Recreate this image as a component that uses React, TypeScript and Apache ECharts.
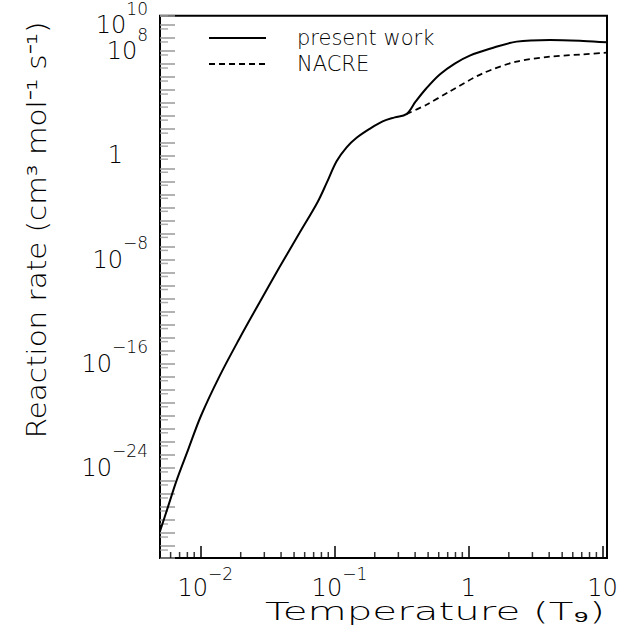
import React, { useEffect, useRef } from 'react';
import * as echarts from 'echarts';

// ---- data ----
const presentT = [0.005, 0.005758, 0.006642, 0.008124, 0.01011, 0.01385, 0.01954, 0.02757, 0.0389, 0.05485, 0.07482, 0.08737, 0.1038, 0.1233, 0.1464, 0.1832, 0.2291, 0.2817, 0.3444, 0.404, 0.4857, 0.6106, 0.7902, 1.023, 1.443, 2.285, 4.054, 7.19, 10.76];
const presentRate = [1.4e-29, 1.17e-27, 1.08e-25, 2.7e-23, 1.02e-20, 1.03e-17, 8.3e-15, 4.8e-12, 2.5e-9, 1.07e-6, 2.5e-4, 7.2e-3, 0.35, 4.1, 22, 107, 400, 810, 1450, 1.35e4, 1.4e5, 1.6e6, 1.1e7, 4.5e7, 1.5e8, 5.3e8, 7.1e8, 6.0e8, 4.7e8];
const nacreT = [0.3444, 0.486, 0.724, 1.285, 2.28, 4.05, 7.19, 10.76];
const nacreRate = [1450, 7.6e3, 7.9e4, 2.0e6, 1.55e7, 3.7e7, 5.6e7, 7.6e7];

const seriesNames = ['present work', 'NACRE'];
const xTitle = 'Temperature (T\u2089)';
const yTitle = 'Reaction rate (cm\u00B3 mol\u207B\u00B9 s\u207B\u00B9)';

// axis ranges and labelled decades
const xMin = 0.005;
const xMax = 10.8;
const yMin = 1.23e-31;
const yMax = 5.1e10;
const xLabelExps = [-2, -1, 0, 1];
const yLabelExps = [10, 8, 0, -8, -16, -24];
const xMinorMultipliers = [2, 3, 4, 5, 6, 7, 8, 9];
const xMinorDecades = [0.001, 0.01, 0.1, 1];
const yShortTickMultiplier = 5;

const FONT = '"DejaVu Sans", "Liberation Sans", sans-serif';
const TXT = '#000';
const W = 200;

const lg = (v: number) => Math.log10(v);
function exactExp(e: number): number | null {
  const r = Math.round(e);
  return Math.abs(e - r) < 1e-6 ? r : null;
}

export default function App() {
  const ref = useRef<HTMLDivElement>(null);

  useEffect(() => {
    document.body.style.margin = '0';
    if (!ref.current) return;
    const chart = echarts.init(ref.current, undefined, { renderer: 'svg' });

    const yLo = lg(yMin);
    const yHi = lg(yMax);

    const xMinor: number[] = [];
    xMinorDecades.forEach((d) =>
      xMinorMultipliers.forEach((m) => {
        const v = d * m;
        if (v > xMin && v < xMax) xMinor.push(v);
      })
    );
    const yShort: number[] = [];
    for (let e = -32; e <= 11; e++) {
      const v = lg(yShortTickMultiplier) + e;
      if (v > yLo && v < yHi) yShort.push(v);
    }

    const xFmt = (v: number) => {
      const e = exactExp(lg(v));
      if (e === null || !xLabelExps.includes(e)) return '';
      if (e === 0) return '1';
      if (e === 1) return '10';
      return '{bp|10}{s|\u2212' + Math.abs(e) + '}';
    };
    const yFmt = (v: number) => {
      const e = exactExp(v);
      if (e === null || !yLabelExps.includes(e)) return '';
      if (e === 0) return '{one|1}';
      return '{b|10}{s|' + (e < 0 ? '\u2212' : '') + Math.abs(e) + '}';
    };

    const option: any = {
      animation: false,
      backgroundColor: '#fff',
      grid: {
        left: 160,
        right: 17,
        top: 14,
        bottom: 75,
        show: true,
        borderColor: '#000',
        borderWidth: 2,
        backgroundColor: 'transparent',
      },
      legend: {
        data: seriesNames,
        orient: 'vertical',
        left: 203,
        top: 21,
        itemWidth: 57,
        itemHeight: 14,
        itemGap: 2,
        selectedMode: false,
        itemStyle: { opacity: 0 },
        textStyle: {
          fontFamily: FONT,
          fontSize: 21,
          fontWeight: W,
          lineHeight: 24,
          color: TXT,
          padding: [0, 0, 0, 26],
        },
      },
      xAxis: {
        type: 'log',
        logBase: 10,
        min: xMin,
        max: xMax,
        splitNumber: 4,
        axisLine: { show: false, onZero: false },
        axisTick: { show: true, inside: true, length: 12, lineStyle: { color: '#000', width: 1.5 } },
        splitLine: { show: false },
        axisLabel: {
          formatter: xFmt,
          margin: 7,
          fontFamily: FONT,
          fontSize: 24,
          fontWeight: W,
          lineHeight: 46,
          color: TXT,
          rich: {
            bp: { fontFamily: FONT, fontSize: 24, fontWeight: W, lineHeight: 46, color: TXT, padding: [0, 0, 0, 10] },
            s: { fontFamily: FONT, fontSize: 17, fontWeight: W, lineHeight: 18, color: TXT, verticalAlign: 'top' },
          },
        },
      },
      yAxis: {
        type: 'value',
        min: yLo,
        max: yHi,
        splitNumber: 42,
        axisLine: { show: false, onZero: false },
        axisTick: { show: true, inside: true, length: 15, lineStyle: { color: '#999', width: 1.5 } },
        splitLine: { show: false },
        axisLabel: {
          formatter: yFmt,
          margin: 12,
          fontFamily: FONT,
          fontSize: 24,
          fontWeight: W,
          lineHeight: 50,
          color: TXT,
          rich: {
            b: { fontFamily: FONT, fontSize: 24, fontWeight: W, lineHeight: 50, color: TXT },
            one: { fontFamily: FONT, fontSize: 24, fontWeight: W, lineHeight: 50, color: TXT, padding: [0, 25, 0, 0] },
            s: { fontFamily: FONT, fontSize: 17, fontWeight: W, lineHeight: 18, color: TXT, verticalAlign: 'top' },
          },
        },
      },
      graphic: [
        {
          type: 'text',
          x: 435,
          y: 612,
          scaleX: 1.68,
          style: {
            text: xTitle,
            fontFamily: FONT,
            fontSize: 24,
            fontWeight: W,
            fill: TXT,
            align: 'center',
            verticalAlign: 'middle',
            textAlign: 'center',
            textVerticalAlign: 'middle',
          },
        },
        {
          type: 'text',
          x: 37,
          y: 230,
          rotation: Math.PI / 2,
          scaleX: 1.13,
          style: {
            text: yTitle,
            fontFamily: FONT,
            fontSize: 26,
            fontWeight: W,
            fill: TXT,
            align: 'center',
            verticalAlign: 'middle',
            textAlign: 'center',
            textVerticalAlign: 'middle',
          },
        },
      ],
      series: [
        {
          name: 'x-minor-ticks',
          type: 'scatter',
          silent: true,
          clip: false,
          symbol: 'rect',
          symbolSize: [1.5, 6],
          symbolOffset: [0, -3],
          itemStyle: { color: '#000' },
          data: xMinor.map((v) => [v, yLo]),
          z: 1,
        },
        {
          name: 'y-short-ticks',
          type: 'scatter',
          silent: true,
          clip: false,
          symbol: 'rect',
          symbolSize: [8, 1.5],
          symbolOffset: [4, 0],
          itemStyle: { color: '#999' },
          data: yShort.map((v) => [xMin, v]),
          z: 1,
        },
        {
          name: seriesNames[1],
          type: 'line',
          symbol: 'none',
          smooth: 0.3,
          lineStyle: { color: '#000', width: 1.8, type: [6, 4] },
          itemStyle: { color: 'rgba(0,0,0,0)' },
          data: nacreT.map((t, i) => [t, lg(nacreRate[i])]),
          z: 3,
        },
        {
          name: seriesNames[0],
          type: 'line',
          symbol: 'none',
          smooth: 0.35,
          lineStyle: { color: '#000', width: 2 },
          itemStyle: { color: 'rgba(0,0,0,0)' },
          data: presentT.map((t, i) => [t, lg(presentRate[i])]),
          z: 4,
        },
      ],
    };

    chart.setOption(option);
    return () => chart.dispose();
  }, []);

  return <div ref={ref} style={{ width: 624, height: 633 }} />;
}
